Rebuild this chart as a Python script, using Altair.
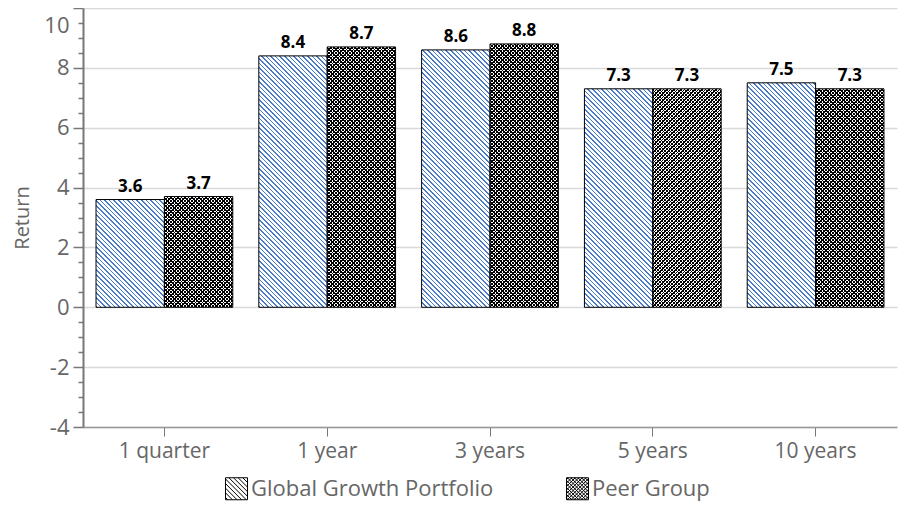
import altair as alt

categories = ["1 quarter", "1 year", "3 years", "5 years", "10 years"]
series = ["Global Growth Portfolio", "Peer Group"]
global_growth = [3.6, 8.4, 8.6, 7.3, 7.5]
peer_group = [3.7, 8.7, 8.8, 7.3, 7.3]
y_domain = [-4, 10]

FONT = "Open Sans"
GRAY = "#666666"
W, H = 814, 419
PAD_IN, PAD_OUT = 0.16, 0.08
step = W / (len(categories) - PAD_IN + 2 * PAD_OUT)
bar_w = step * (1 - PAD_IN) / 2
ppu = H / (y_domain[1] - y_domain[0])


def stripes(w, h, period, frac, color, back, direction):
    """Linear gradient with hard stops that draws 45-degree stripes in a w x h box."""
    r = h / w
    a = (1 + r) / (1 + r * r)
    if direction == "back":
        x1, y1, x2, y2 = 0, 1, a, 1 - a * r
    else:
        x1, y1, x2, y2 = 0, 0, a, a * r
    n = (w + h) / period
    stops = []
    k = 0
    while k < n:
        t0 = k / n
        t1 = min((k + frac) / n, 1)
        t2 = min((k + 1) / n, 1)
        stops += [
            {"offset": t0, "color": color},
            {"offset": t1, "color": color},
            {"offset": t1, "color": back},
            {"offset": t2, "color": back},
        ]
        k += 1
    return {"gradient": "linear", "x1": x1, "y1": y1, "x2": x2, "y2": y2, "stops": stops}


rows = []
for cat, g, p in zip(categories, global_growth, peer_group):
    for s, v in ((series[0], g), (series[1], p)):
        h = max(abs(v) * ppu, 1)
        if s == series[0]:
            ga = stripes(bar_w, h, 4.6, 0.33, "#4a7cc9", "#ffffff", "back")
            gb = None
        else:
            ga = stripes(bar_w, h, 3.5, 0.4, "#000000", "#ffffff", "back")
            gb = stripes(bar_w, h, 3.5, 0.4, "#000000", "rgba(0,0,0,0)", "fwd")
        row = {"category": cat, "series": s, "value": v, "gradA": ga}
        if gb is not None:
            row["gradB"] = gb
        rows.append(row)

data = alt.Data(values=rows)


def hatch_path(period, both):
    segs = ["M-1,-1H1V1H-1Z"]
    c = -2 + period / 2
    while c < 2:
        xa, xb = max(-1, -1 + c), min(1, 1 + c)
        if xb > xa:
            segs.append(f"M{xa:.3f},{xa - c:.3f}L{xb:.3f},{xb - c:.3f}")
        if both:
            xa, xb = max(-1, c - 1), min(1, c + 1)
            if xb > xa:
                segs.append(f"M{xa:.3f},{c - xa:.3f}L{xb:.3f},{c - xb:.3f}")
        c += period
    return "".join(segs)


x_enc = alt.X(
    "category:N",
    sort=categories,
    scale=alt.Scale(paddingInner=PAD_IN, paddingOuter=PAD_OUT),
    axis=alt.Axis(
        title=None, labelAngle=0, labelFont=FONT, labelFontSize=21, labelColor=GRAY,
        tickSize=9, tickColor="#777777", domainColor="#999999", domainWidth=1.5,
        labelPadding=4, grid=False,
    ),
)
xoff_enc = alt.XOffset(
    "series:N", sort=series, scale=alt.Scale(domain=series, paddingInner=0, paddingOuter=0)
)
minor_vals = [y_domain[0] + 0.5 * i for i in range(int((y_domain[1] - y_domain[0]) * 2) + 1)]
y_enc = alt.Y(
    "value:Q",
    scale=alt.Scale(domain=y_domain, nice=False, zero=False),
    axis=alt.Axis(
        title="Return", titleFont=FONT, titleFontSize=20, titleFontWeight="normal",
        titleColor=GRAY, titleX=-61, titleY=H / 2, titleAngle=270,
        titleAlign="center", titleBaseline="middle",
        values=minor_vals,
        labelExpr="datum.value % 2 === 0 ? '' + datum.value : ''",
        labelFont=FONT, labelFontSize=22, labelColor=GRAY, labelPadding=4,
        labelOffset={"condition": {"test": "datum.value === 10", "value": 17}, "value": 0},
        tickSize={"condition": {"test": "datum.value % 2 === 0", "value": 10}, "value": 5},
        tickColor="#777777", tickWidth=1.5,
        domainColor="#777777", domainWidth=2,
        grid=True, gridColor="#d9d9d9", gridWidth=1.5,
        gridOpacity={"condition": {"test": "datum.value % 2 === 0", "value": 1}, "value": 0},
    ),
)

base = alt.Chart(data).encode(x=x_enc, xOffset=xoff_enc, y=y_enc)

layer_a = base.mark_bar(strokeWidth=0).encode(
    y2=alt.datum(0), fill=alt.Fill("gradA:N", scale=None, legend=None)
)
layer_b = base.transform_filter(alt.datum.series == series[1]).mark_bar(strokeWidth=0).encode(
    y2=alt.datum(0), fill=alt.Fill("gradB:N", scale=None, legend=None)
)
outline = base.mark_bar(fillOpacity=0, stroke="#000000", strokeWidth=1).encode(y2=alt.datum(0))
labels = base.mark_text(
    font=FONT, fontSize=17, fontWeight="bold", color="#000000", baseline="bottom", dy=-4
).encode(text=alt.Text("value:Q", format=".1f"))

legend_layer = base.mark_point(filled=False, opacity=0, color="#000000", strokeWidth=1).encode(
    shape=alt.Shape(
        "series:N",
        sort=series,
        scale=alt.Scale(domain=series, range=[hatch_path(0.42, False), hatch_path(0.32, True)]),
        legend=alt.Legend(
            title=None, orient="none", direction="horizontal", legendX=142, legendY=469,
            symbolSize=484, symbolOpacity=1, symbolStrokeColor="#000000", symbolStrokeWidth=1,
            symbolFillColor="transparent",
            labelFont=FONT, labelFontSize=22, labelColor=GRAY, labelOffset=3, labelLimit=0,
            columnPadding=70, padding=0,
        ),
    )
)

chart = (
    alt.layer(layer_a, layer_b, outline, labels, legend_layer)
    .properties(
        width=W, height=H,
        autosize=alt.AutoSizeParams(type="none"),
        padding={"left": 75, "top": 0, "right": 16, "bottom": 76},
    )
    .configure_view(stroke=None)
)

chart.save("out.html", embed_options={"renderer": "svg", "actions": False})
